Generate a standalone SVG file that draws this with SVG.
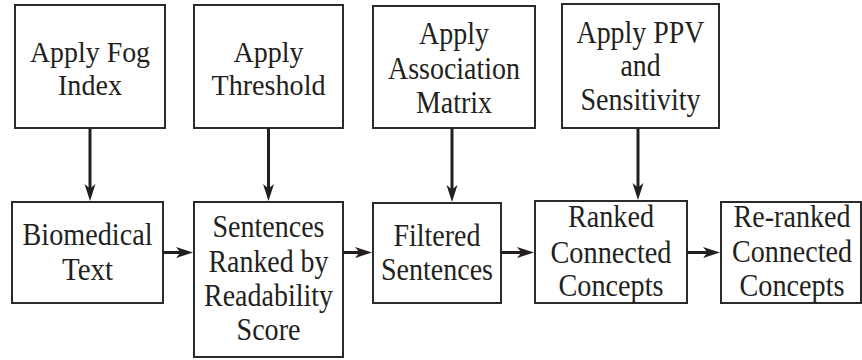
<svg xmlns="http://www.w3.org/2000/svg" width="862" height="360" viewBox="0 0 862 360">
<style>
.box{fill:#fff;stroke:#2b2b2b;stroke-width:2}
.lbl{font-family:"Liberation Serif","Times New Roman","Nimbus Roman","Tinos","Noto Serif","DejaVu Serif","FreeSerif",serif;font-size:32px;fill:#231f20;text-anchor:middle}
.sm{font-size:30px}
.conn{stroke:#231f20;stroke-width:3;fill:none;marker-end:url(#ah)}
</style>
<defs>
<marker id="ah" markerUnits="userSpaceOnUse" markerWidth="18" markerHeight="13" refX="7" refY="6" orient="auto" viewBox="0 0 18 12">
<path d="M0,0.5 L17,6 L0,11.5 L4.5,6 Z" fill="#231f20"/>
</marker>
</defs>
<g id="fog">
<rect class="box" x="15" y="5" width="150" height="123"/>
<text class="lbl sm" x="90" y="62" textLength="120" lengthAdjust="spacingAndGlyphs">Apply Fog</text>
<text class="lbl sm" x="90" y="95" textLength="64" lengthAdjust="spacingAndGlyphs">Index</text>
</g>
<g id="threshold">
<rect class="box" x="194" y="5" width="149" height="123"/>
<text class="lbl sm" x="268.5" y="62" textLength="70" lengthAdjust="spacingAndGlyphs">Apply</text>
<text class="lbl sm" x="268.5" y="95" textLength="114" lengthAdjust="spacingAndGlyphs">Threshold</text>
</g>
<g id="assoc">
<rect class="box" x="373" y="6" width="162" height="122"/>
<text class="lbl" x="454" y="44" textLength="70" lengthAdjust="spacingAndGlyphs">Apply</text>
<text class="lbl" x="454" y="78.5" textLength="132" lengthAdjust="spacingAndGlyphs">Association</text>
<text class="lbl" x="454" y="112.5" textLength="76" lengthAdjust="spacingAndGlyphs">Matrix</text>
</g>
<g id="ppv">
<rect class="box" x="562" y="4" width="157" height="124"/>
<text class="lbl" x="640.5" y="42.5" textLength="128" lengthAdjust="spacingAndGlyphs">Apply PPV</text>
<text class="lbl" x="640.5" y="76" textLength="40" lengthAdjust="spacingAndGlyphs">and</text>
<text class="lbl" x="640.5" y="109.5" textLength="120" lengthAdjust="spacingAndGlyphs">Sensitivity</text>
</g>
<g id="biomedical">
<rect class="box" x="12" y="202" width="151" height="101"/>
<text class="lbl" x="87.5" y="245" textLength="130" lengthAdjust="spacingAndGlyphs">Biomedical</text>
<text class="lbl" x="87.5" y="280" textLength="51" lengthAdjust="spacingAndGlyphs">Text</text>
</g>
<g id="sentences">
<rect class="box" x="194" y="202" width="149" height="155"/>
<text class="lbl" x="268.5" y="237" textLength="112" lengthAdjust="spacingAndGlyphs">Sentences</text>
<text class="lbl" x="268.5" y="271.5" textLength="120" lengthAdjust="spacingAndGlyphs">Ranked by</text>
<text class="lbl" x="268.5" y="305.5" textLength="129" lengthAdjust="spacingAndGlyphs">Readability</text>
<text class="lbl" x="268.5" y="339.5" textLength="64" lengthAdjust="spacingAndGlyphs">Score</text>
</g>
<g id="filtered">
<rect class="box" x="373" y="203" width="128" height="100"/>
<text class="lbl" x="437" y="245.5" textLength="87" lengthAdjust="spacingAndGlyphs">Filtered</text>
<text class="lbl" x="437" y="280" textLength="112" lengthAdjust="spacingAndGlyphs">Sentences</text>
</g>
<g id="ranked">
<rect class="box" x="535" y="201" width="152" height="102"/>
<text class="lbl" x="611" y="227" textLength="86" lengthAdjust="spacingAndGlyphs">Ranked</text>
<text class="lbl" x="611" y="262.5" textLength="121" lengthAdjust="spacingAndGlyphs">Connected</text>
<text class="lbl" x="611" y="295.5" textLength="105" lengthAdjust="spacingAndGlyphs">Concepts</text>
</g>
<g id="reranked">
<rect class="box" x="721" y="202" width="140" height="101"/>
<text class="lbl" x="792" y="227" textLength="117" lengthAdjust="spacingAndGlyphs">Re-ranked</text>
<text class="lbl" x="792" y="262" textLength="120" lengthAdjust="spacingAndGlyphs">Connected</text>
<text class="lbl" x="792" y="295.5" textLength="105" lengthAdjust="spacingAndGlyphs">Concepts</text>
</g>
<g id="connectors">
<line class="conn" x1="90" y1="128" x2="90" y2="191"/>
<line class="conn" x1="268.5" y1="128" x2="268.5" y2="191"/>
<line class="conn" x1="452" y1="128" x2="452" y2="192"/>
<line class="conn" x1="638" y1="128" x2="638" y2="190"/>
<line class="conn" x1="163" y1="252.5" x2="183" y2="252.5"/>
<line class="conn" x1="343" y1="252.5" x2="362" y2="252.5"/>
<line class="conn" x1="501" y1="252.5" x2="524" y2="252.5"/>
<line class="conn" x1="687" y1="252.5" x2="710" y2="252.5"/>
</g>
</svg>
